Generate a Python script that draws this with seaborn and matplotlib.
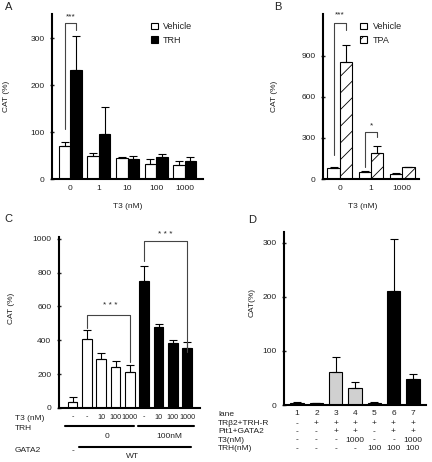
import numpy as np
import pandas as pd
import seaborn as sns
import matplotlib.pyplot as plt
from matplotlib.patches import Patch
from matplotlib.transforms import blended_transform_factory

# Panel A: T3 dose, vehicle vs TRH
a_t3 = ['0', '1', '10', '100', '1000']
a_vehicle = [71, 50, 45, 33, 30]
a_vehicle_sd = [7, 5, 1, 10, 8]
a_trh = [232, 95, 43, 46, 39]
a_trh_sd = [73, 58, 7, 8, 9]

# Panel B: T3 dose, vehicle vs TPA
b_t3 = ['0', '1', '1000']
b_vehicle = [78, 53, 37]
b_vehicle_sd = [12, 7, 5]
b_tpa = [851, 192, 85]
b_tpa_sd = [129, 49, 0]

# Panel C
c_gata2 = ['-', 'WT', 'WT', 'WT', 'WT', 'WT', 'WT', 'WT', 'WT']
c_t3 = ['-', '-', '10', '100', '1000', '-', '10', '100', '1000']
c_trh = ['0', '0', '0', '0', '0', '100nM', '100nM', '100nM', '100nM']
c_values = [35, 410, 290, 245, 212, 752, 480, 385, 355]
c_sd = [30, 48, 35, 35, 40, 85, 17, 18, 33]

# Panel D
d_lanes = ['1', '2', '3', '4', '5', '6', '7']
d_values = [4, 3, 61, 31, 4, 210, 49]
d_sd = [1, 1, 28, 12, 1, 97, 8]
d_trb2 = ['-', '+', '+', '+', '+', '+', '+']
d_pit1 = ['-', '-', '+', '+', '-', '+', '+']
d_t3 = ['-', '-', '-', '1000', '-', '-', '1000']
d_trh = ['-', '-', '-', '-', '100', '100', '100']

sns.set_theme(style='ticks')
plt.rcParams['font.family'] = ['Liberation Sans', 'DejaVu Sans']
plt.rcParams['hatch.linewidth'] = 0.6
FS = 6
TXT = '#222222'

W, H = 432, 462
fig = plt.figure(figsize=(W / 100, H / 100), dpi=100)


def box(l, t, r, b):
    return [l / W, 1 - b / H, (r - l) / W, (b - t) / H]


def fy(px):
    return 1 - px / H


axA = fig.add_axes(box(52, 14, 203, 179))
axB = fig.add_axes(box(323, 14, 419, 179))
axC = fig.add_axes(box(59, 237, 200, 408))
axD = fig.add_axes(box(284, 232, 426, 405))


def add_err(ax, container, sd):
    xs = [p.get_x() + p.get_width() / 2 for p in container]
    ys = [p.get_height() for p in container]
    ax.errorbar(xs, ys, yerr=[np.zeros(len(sd)), sd], fmt='none', ecolor='black',
                elinewidth=0.8, capsize=3, capthick=0.8)


def style(ax, ylim, ticks):
    sns.despine(ax=ax)
    ax.set_ylim(*ylim)
    ax.set_yticks(ticks)
    for s in ['left', 'bottom']:
        ax.spines[s].set_linewidth(1.5)
        ax.spines[s].set_color('black')
    ax.tick_params(axis='y', direction='inout', length=3, width=1, labelsize=FS, pad=4, colors=TXT)
    ax.tick_params(axis='x', length=0, labelsize=FS, pad=4, colors=TXT)


def bracket(ax, x1, x2, y1, y2, ytop, label, ty, tx=None, fs=FS):
    ax.plot([x1, x1, x2, x2], [y1, ytop, ytop, y2], color='#444444', lw=0.8, clip_on=False)
    ax.text((x1 + x2) / 2 if tx is None else tx, ty, label, ha='center', va='center',
            fontsize=fs, color=TXT, clip_on=False)


# ---- A ----
dfA = pd.DataFrame({'T3': a_t3 * 2, 'CAT': a_vehicle + a_trh,
                    'treat': ['Vehicle'] * len(a_t3) + ['TRH'] * len(a_t3)})
sns.barplot(data=dfA, x='T3', y='CAT', hue='treat', order=a_t3, hue_order=['Vehicle', 'TRH'],
            palette={'Vehicle': 'white', 'TRH': 'black'}, edgecolor='black', linewidth=0.8,
            errorbar=None, width=0.8, ax=axA)
add_err(axA, axA.containers[0], a_vehicle_sd)
add_err(axA, axA.containers[1], a_trh_sd)
style(axA, (0, 352), [0, 100, 200, 300])
axA.legend(handles=[Patch(facecolor='white', edgecolor='black', lw=0.8),
                    Patch(facecolor='black', edgecolor='black', lw=0.8)],
           labels=['Vehicle', 'TRH'], frameon=False, loc='upper left', bbox_to_anchor=(0.655, 0.95),
           fontsize=6.5, handlelength=0.75, handleheight=0.75, handletextpad=0.6,
           labelspacing=0.5, borderpad=0, borderaxespad=0, labelcolor=TXT)
axA.set_ylabel('CAT (%)', fontsize=FS, color=TXT)
axA.yaxis.set_label_coords(-0.28, 0.5)
axA.set_xlabel('T3 (nM)', fontsize=FS, color=TXT)
axA.xaxis.set_label_coords(0.5, -0.145)
bracket(axA, -0.2, 0.2, 107, 318, 332, '***', 346)

# ---- B ----
dfB = pd.DataFrame({'T3': b_t3 * 2, 'CAT': b_vehicle + b_tpa,
                    'treat': ['Vehicle'] * len(b_t3) + ['TPA'] * len(b_t3)})
sns.barplot(data=dfB, x='T3', y='CAT', hue='treat', order=b_t3, hue_order=['Vehicle', 'TPA'],
            palette={'Vehicle': 'white', 'TPA': 'white'}, edgecolor='black', linewidth=0.8,
            errorbar=None, width=0.8, ax=axB)
for p in axB.containers[1]:
    p.set_hatch('//')
add_err(axB, axB.containers[0], b_vehicle_sd)
add_err(axB, axB.containers[1], b_tpa_sd)
style(axB, (0, 1205), [0, 300, 600, 900])
axB.legend(handles=[Patch(facecolor='white', edgecolor='black', lw=0.8),
                    Patch(facecolor='white', edgecolor='black', lw=0.8, hatch='//')],
           labels=['Vehicle', 'TPA'], frameon=False, loc='upper left', bbox_to_anchor=(0.39, 0.95),
           fontsize=6.5, handlelength=0.75, handleheight=0.75, handletextpad=0.6,
           labelspacing=0.5, borderpad=0, borderaxespad=0, labelcolor=TXT)
axB.set_ylabel('CAT (%)', fontsize=FS, color=TXT)
axB.yaxis.set_label_coords(-0.47, 0.5)
axB.set_xlabel('T3 (nM)', fontsize=FS, color=TXT)
axB.xaxis.set_label_coords(0.415, -0.145)
bracket(axB, -0.2, 0.2, 176, 1090, 1141, '***', 1195)
bracket(axB, 0.8, 1.2, 90, 310, 342, '*', 390)

# ---- C ----
c_ids = [f'{g}|{t}|{r}' for g, t, r in zip(c_gata2, c_t3, c_trh)]
dfC = pd.DataFrame({'bar': c_ids, 'CAT': c_values, 'TRH': c_trh})
sns.barplot(data=dfC, x='bar', y='CAT', hue='TRH', order=c_ids, dodge=False,
            palette={'0': 'white', '100nM': 'black'}, edgecolor='black', linewidth=0.8,
            errorbar=None, width=0.68, legend=False, ax=axC)
bars_c = sorted([p for c in axC.containers for p in c], key=lambda p: p.get_x())
add_err(axC, bars_c, c_sd)
style(axC, (0, 1010), [0, 200, 400, 600, 800, 1000])
axC.set_xticks(range(len(c_t3)))
axC.set_xticklabels(c_t3, fontsize=5.2)
axC.set_ylabel('CAT (%)', fontsize=FS, color=TXT)
axC.yaxis.set_label_coords(-0.31, 0.58)
axC.set_xlabel('')
bracket(axC, 1, 4, 473, 270, 547, '* * *', 605, tx=2.6)
bracket(axC, 5, 8, 870, 330, 985, '* * *', 1025, tx=6.5)

trC = blended_transform_factory(axC.transData, fig.transFigure)
fig.text(15 / W, fy(419), 'T3 (nM)', fontsize=FS, color=TXT, va='center')
fig.text(15 / W, fy(428), 'TRH', fontsize=FS, color=TXT, va='center')
fig.text(15 / W, fy(451), 'GATA2', fontsize=FS, color=TXT, va='center')
for (x1, x2) in [(-0.5, 4.3), (4.55, 8.45)]:
    axC.plot([x1, x2], [fy(425.7)] * 2, transform=trC, color='black', lw=1.5, clip_on=False)
axC.text(2.4, fy(436), '0', transform=trC, fontsize=FS, color=TXT, ha='center', va='center')
axC.text(6.75, fy(436), '100nM', transform=trC, fontsize=FS, color=TXT, ha='center', va='center')
axC.plot([0.46, 8.24], [fy(446.7)] * 2, transform=trC, color='black', lw=1.5, clip_on=False)
axC.text(0, fy(451), '-', transform=trC, fontsize=FS, color=TXT, ha='center', va='center')
axC.text(4.15, fy(456), 'WT', transform=trC, fontsize=FS, color=TXT, ha='center', va='center')

# ---- D ----
d_pal = {l: ('#d0d0d0' if p == '+' and t == '-' else 'black')
         for l, p, t in zip(d_lanes, d_pit1, d_trh)}
dfD = pd.DataFrame({'lane': d_lanes, 'CAT': d_values})
sns.barplot(data=dfD, x='lane', y='CAT', hue='lane', order=d_lanes, dodge=False,
            palette=d_pal, edgecolor='black', linewidth=0.8,
            errorbar=None, width=0.7, legend=False, ax=axD)
bars_d = sorted([p for c in axD.containers for p in c], key=lambda p: p.get_x())
add_err(axD, bars_d, d_sd)
style(axD, (0, 320), [0, 100, 200, 300])
axD.tick_params(axis='x', pad=3.5)
axD.set_ylabel('CAT(%)', fontsize=FS, color=TXT)
axD.yaxis.set_label_coords(-0.2, 0.59)
axD.set_xlabel('')

trD = blended_transform_factory(axD.transData, fig.transFigure)
fig.text(218 / W, fy(415), 'lane', fontsize=FS, color=TXT, va='center')
for name, row, ypx in [('TRβ2+TRH-R', d_trb2, 423.3), ('Pit1+GATA2', d_pit1, 431.7),
                       ('T3(nM)', d_t3, 440), ('TRH(nM)', d_trh, 448.3)]:
    fig.text(218 / W, fy(ypx), name, fontsize=FS, color=TXT, va='center')
    for i, v in enumerate(row):
        axD.text(i, fy(ypx), v, transform=trD, fontsize=FS, color=TXT, ha='center', va='center')

# panel letters
for lab, x, y in [('A', 5, 7), ('B', 274, 7), ('C', 4, 219), ('D', 248, 220)]:
    fig.text(x / W, fy(y), lab, fontsize=8, color=TXT, va='center')

fig.savefig('out.png', dpi=100)
